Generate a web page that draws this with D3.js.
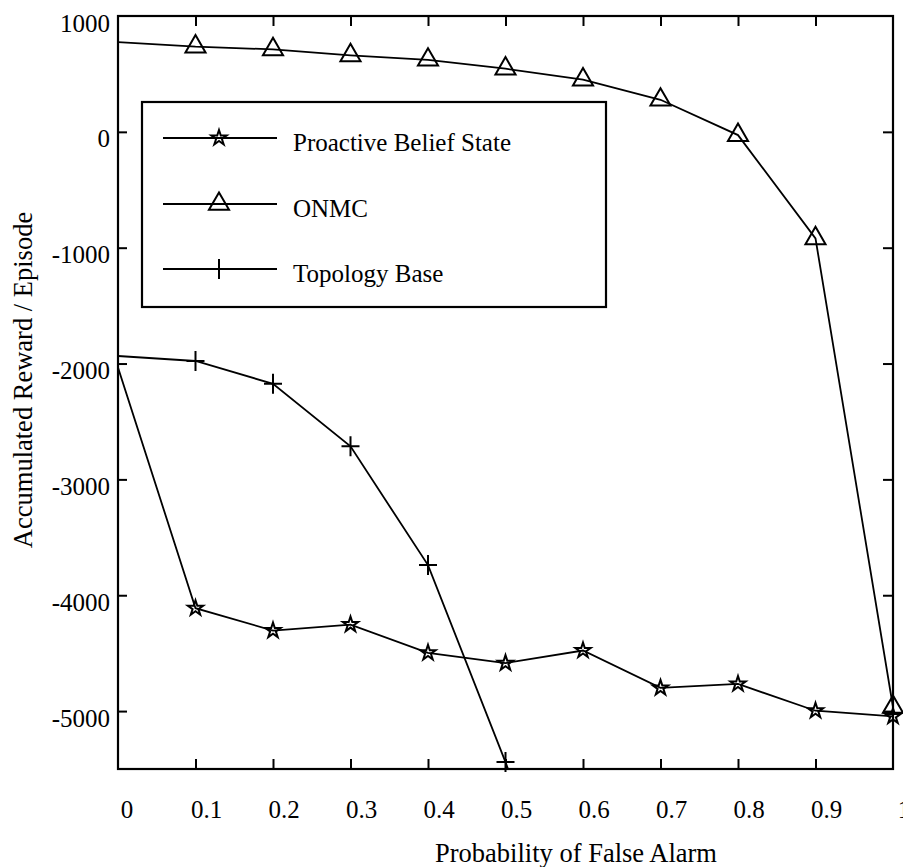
<!DOCTYPE html>
<html>
<head>
<meta charset="utf-8">
<script src="https://cdn.jsdelivr.net/npm/d3@7"></script>
<style>
  body { margin: 0; background: #fff; }
  text { font-family: "Liberation Serif", "Times New Roman", serif; fill: #000; }
</style>
</head>
<body>
<div id="chart"></div>
<script>

// data
const falseAlarm = [0, 0.1, 0.2, 0.3, 0.4, 0.5, 0.6, 0.7, 0.8, 0.9, 1];
const proactive = [-2035, -4112, -4305, -4253, -4497, -4586, -4477, -4800, -4766, -4997, -5046];
const onmc = [775, 735, 712, 660, 622, 545, 450, 277, -28, -920, -4965];
// topology base drops off the bottom after 0.5
const topologyX = [0, 0.1, 0.2, 0.3, 0.4, 0.5, 0.6];
const topology = [-1935, -1978, -2175, -2715, -3740, -5440, -7300];

const xTicks = [0, 0.1, 0.2, 0.3, 0.4, 0.5, 0.6, 0.7, 0.8, 0.9, 1];
const yTicks = [1000, 0, -1000, -2000, -3000, -4000, -5000];
const seriesNames = ["Proactive Belief State", "ONMC", "Topology Base"];

const width = 903, height = 867;
const margin = {left: 118, right: 10, top: 16, bottom: 98};

const svg = d3.select("#chart")
    .append("svg")
    .attr("width", width)
    .attr("height", height);

let xScale = d3.scaleLinear()
    .domain([0, 1])
    .range([margin.left, width - margin.right]);

let yScale = d3.scaleLinear()
    .domain([-5500, 1000])
    .range([height - margin.bottom, margin.top]);

const x0 = xScale.range()[0], x1 = xScale.range()[1];
const y0 = yScale.range()[1], y1 = yScale.range()[0];

svg.append("clipPath")
    .attr("id", "plotclip")
    .append("rect")
    .attr("x", x0).attr("y", y0)
    .attr("width", x1 - x0).attr("height", y1 - y0);

// ticks point inward on all four sides, no labels from the axis itself
const tickLen = 10;
const innerX = xTicks.filter(d => d > 0 && d < 1);
const innerY = yTicks.filter(d => d > -5500 && d < 1000);

svg.append("g")
    .attr("transform", `translate(0,${y1})`)
    .call(d3.axisTop(xScale).tickValues(innerX).tickSize(tickLen).tickFormat(""));
svg.append("g")
    .attr("transform", `translate(0,${y0})`)
    .call(d3.axisBottom(xScale).tickValues(innerX).tickSize(tickLen).tickFormat(""));
svg.append("g")
    .attr("transform", `translate(${x0},0)`)
    .call(d3.axisRight(yScale).tickValues(innerY).tickSize(tickLen - 1).tickFormat(""));
svg.append("g")
    .attr("transform", `translate(${x1},0)`)
    .call(d3.axisLeft(yScale).tickValues(innerY).tickSize(tickLen).tickFormat(""));

svg.selectAll(".domain").remove();
svg.selectAll(".tick line")
    .attr("stroke", "#000")
    .attr("stroke-width", 2);

// frame
svg.append("rect")
    .attr("x", x0).attr("y", y0)
    .attr("width", x1 - x0).attr("height", y1 - y0)
    .attr("fill", "none")
    .attr("stroke", "#000")
    .attr("stroke-width", 2.2);

// tick labels
svg.append("g")
    .selectAll("text")
    .data(xTicks)
    .enter()
    .append("text")
    .attr("x", d => xScale(d) + (d === 0 ? 9 : 11))
    .attr("y", y1 + 49)
    .attr("text-anchor", "middle")
    .attr("font-size", "25px")
    .text(d => d3.format("~g")(d));

svg.append("g")
    .selectAll("text")
    .data(yTicks)
    .enter()
    .append("text")
    .attr("x", x0 - 8)
    .attr("y", d => yScale(d) + 15.5)
    .attr("text-anchor", "end")
    .attr("font-size", "25px")
    .text(d => d);

// axis titles
svg.append("text")
    .attr("x", 576)
    .attr("y", 862)
    .attr("text-anchor", "middle")
    .attr("font-size", "26.5px")
    .text("Probability of False Alarm");

svg.append("text")
    .attr("transform", `translate(32,380) rotate(-90)`)
    .attr("text-anchor", "middle")
    .attr("font-size", "26.5px")
    .text("Accumulated Reward / Episode");

// markers
const starPath = d3.symbol().type(d3.symbolStar).size(72)();
const triPath = d3.symbol().type(d3.symbolTriangle).size(175)();
const plusPath = "M-9,0H9M0,-10V10";

const series = [
    {name: seriesNames[0], xs: falseAlarm, ys: proactive, marker: starPath},
    {name: seriesNames[1], xs: falseAlarm, ys: onmc, marker: triPath},
    {name: seriesNames[2], xs: topologyX, ys: topology, marker: plusPath}
];

const line = d3.line()
    .x(d => xScale(d[0]))
    .y(d => yScale(d[1]));

series.forEach(s => {
    const pts = s.xs.map((x, i) => [x, s.ys[i]]);

    svg.append("path")
        .datum(pts)
        .attr("clip-path", "url(#plotclip)")
        .attr("d", line)
        .attr("fill", "none")
        .attr("stroke", "#000")
        .attr("stroke-width", 1.8);

    // no marker at x = 0, and none below the frame
    svg.append("g")
        .selectAll("path")
        .data(pts.filter(p => p[0] > 0 && p[1] >= -5500))
        .enter()
        .append("path")
        .attr("transform", p => `translate(${xScale(p[0])},${yScale(p[1])})`)
        .attr("d", s.marker)
        .attr("fill", "none")
        .attr("stroke", "#000")
        .attr("stroke-width", 2);
});

// legend
const legend = svg.append("g");
legend.append("rect")
    .attr("x", 142).attr("y", 102)
    .attr("width", 464).attr("height", 205)
    .attr("fill", "#fff")
    .attr("stroke", "#000")
    .attr("stroke-width", 2.2);

const rowY = [138, 204, 269];
series.forEach((s, i) => {
    legend.append("line")
        .attr("x1", 163).attr("x2", 277)
        .attr("y1", rowY[i]).attr("y2", rowY[i])
        .attr("stroke", "#000")
        .attr("stroke-width", 1.8);
    legend.append("path")
        .attr("transform", `translate(219,${rowY[i]})`)
        .attr("d", s.marker)
        .attr("fill", "none")
        .attr("stroke", "#000")
        .attr("stroke-width", 2);
    legend.append("text")
        .attr("x", 293)
        .attr("y", rowY[i] + 13)
        .attr("font-size", "25px")
        .text(s.name);
});

</script>
</body>
</html>
